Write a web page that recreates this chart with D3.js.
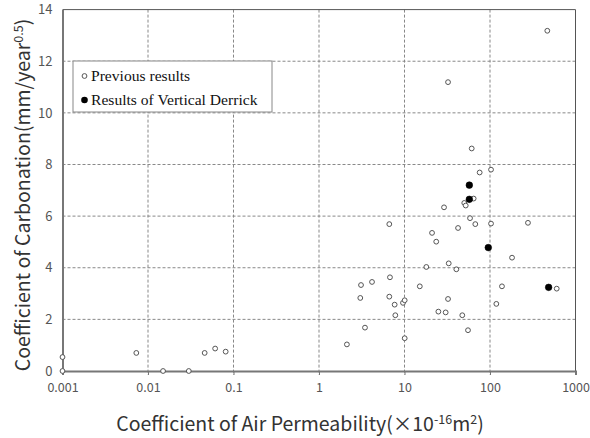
<!DOCTYPE html>
<html><head><meta charset="utf-8">
<script src="https://cdn.jsdelivr.net/npm/d3@7"></script>
<style>body{margin:0;background:#fff}svg{display:block}</style>
</head><body>
<svg id="c" width="590" height="438"></svg>
<script>
const prevX = [0.001,0.001,0.0073,0.015,0.030,0.046,0.061,0.081,
  468,32.3,61.1,102.8,75.7,64.4,50,52,29.0,58.4,
  6.64,21.0,42.3,67.3,102.8,278,23.5,181,18.0,32.9,40.4,
  3.10,4.17,6.76,15.1,138,603,3.04,6.64,7.67,9.6,10.05,32.3,118.6,7.81,24.9,30.3,47.4,3.45,55.3,2.12,10.05];
const prevY = [0.54,0,0.70,0,0,0.70,0.87,0.75,
  13.18,11.19,8.62,7.80,7.69,6.68,6.51,6.41,6.34,5.92,
  5.69,5.35,5.54,5.69,5.71,5.74,5.01,4.39,4.03,4.17,3.94,
  3.33,3.45,3.63,3.28,3.28,3.19,2.83,2.88,2.57,2.64,2.74,2.79,2.60,2.16,2.30,2.27,2.16,1.68,1.58,1.03,1.27];
const vdX = [57.3,57.3,95.5,485];
const vdY = [7.20,6.65,4.78,3.24];
const xTicks = [0.001,0.01,0.1,1,10,100,1000];
const xTickLabels = ["0.001","0.01","0.1","1","10","100","1000"];
const yTicks = [0,2,4,6,8,10,12,14];
const legendLabels = ["Previous results","Results of Vertical Derrick"];

const svg = d3.select("#c");
const L=62.5,R=575.5,T=9.6,B=371;
const x = d3.scaleLog().domain([0.001,1000]).range([L,R]);
const y = d3.scaleLinear().domain([0,14]).range([B,T]);
const sans = "'Noto Sans CJK JP','Noto Sans',sans-serif";

// grid
const g = svg.append("g");
g.selectAll(".vg").data(xTicks.slice(1,-1)).enter().append("line")
  .attr("x1",d=>x(d)).attr("x2",d=>x(d)).attr("y1",T).attr("y2",B+4)
  .attr("stroke","#888").attr("stroke-width",1).attr("stroke-dasharray","3,2");
g.selectAll(".hg").data(yTicks.slice(1,-1)).enter().append("line")
  .attr("x1",L).attr("x2",R).attr("y1",d=>y(d)).attr("y2",d=>y(d))
  .attr("stroke","#888").attr("stroke-width",1).attr("stroke-dasharray","3,2");

// frame top/right
svg.append("line").attr("x1",L).attr("x2",R).attr("y1",T).attr("y2",T).attr("stroke","#555").attr("stroke-width",1);
svg.append("line").attr("x1",R).attr("x2",R).attr("y1",T).attr("y2",B).attr("stroke","#555").attr("stroke-width",1);

// axes
const xAxis = d3.axisBottom(x).tickValues(xTicks).tickFormat((d,i)=>xTickLabels[i]).tickSize(4).tickPadding(8);
const gx = svg.append("g").attr("transform",`translate(0,${B})`).call(xAxis);
gx.select(".domain").attr("stroke","#777").attr("stroke-width",2);
gx.selectAll(".tick line").attr("stroke","#777");
gx.selectAll("text").attr("fill","#555").style("font-family",sans).style("font-size","12.5px");

const yAxis = d3.axisLeft(y).tickValues(yTicks).tickSize(0).tickPadding(10);
const gy = svg.append("g").attr("transform",`translate(${L},0)`).call(yAxis);
gy.select(".domain").attr("stroke","#777").attr("stroke-width",2);
gy.selectAll("text").attr("fill","#555").style("font-family",sans).style("font-size","13px");

// points
svg.append("g").selectAll("circle").data(prevX.map((v,i)=>[v,prevY[i]])).enter().append("circle")
  .attr("cx",d=>x(d[0])).attr("cy",d=>y(d[1])).attr("r",2.4)
  .attr("fill","#fff").attr("stroke","#555").attr("stroke-width",1);
svg.append("g").selectAll("circle").data(vdX.map((v,i)=>[v,vdY[i]])).enter().append("circle")
  .attr("cx",d=>x(d[0])).attr("cy",d=>y(d[1])).attr("r",3.3)
  .attr("fill","#000").attr("stroke","#000").attr("stroke-width",0.6);

// legend
const lg = svg.append("g");
lg.append("rect").attr("x",73).attr("y",61).attr("width",199).attr("height",51)
  .attr("fill","#fff").attr("stroke","#888").attr("stroke-width",1);
lg.append("circle").attr("cx",84.5).attr("cy",76).attr("r",2.4).attr("fill","#fff").attr("stroke","#555");
lg.append("circle").attr("cx",84.5).attr("cy",100).attr("r",3.3).attr("fill","#000");
lg.selectAll("text").data(legendLabels).enter().append("text")
  .attr("x",91).attr("y",(d,i)=>80.5+i*24.5).text(d=>d)
  .style("font-family","'Liberation Serif','Times New Roman',serif").style("font-size","15.6px").attr("fill","#111");

// axis titles
const xt = svg.append("text").attr("x",300).attr("y",431).attr("text-anchor","middle")
  .style("font-family",sans).style("font-size","19.5px").attr("fill","#333");
xt.append("tspan").text("Coefficient of Air Permeability(×10");
xt.append("tspan").attr("dy",-7).style("font-size","12.5px").text("-16");
xt.append("tspan").attr("dy",7).text("m");
xt.append("tspan").attr("dy",-7).style("font-size","12.5px").text("2");
xt.append("tspan").attr("dy",7).text(")");

const yt = svg.append("text").attr("transform","translate(30,195) rotate(-90)").attr("text-anchor","middle")
  .style("font-family",sans).style("font-size","19.5px").attr("fill","#333");
yt.append("tspan").text("Coefficient of Carbonation(mm/year");
yt.append("tspan").attr("dy",-7).style("font-size","12.5px").text("0.5");
yt.append("tspan").attr("dy",7).text(")");
</script>
</body></html>
